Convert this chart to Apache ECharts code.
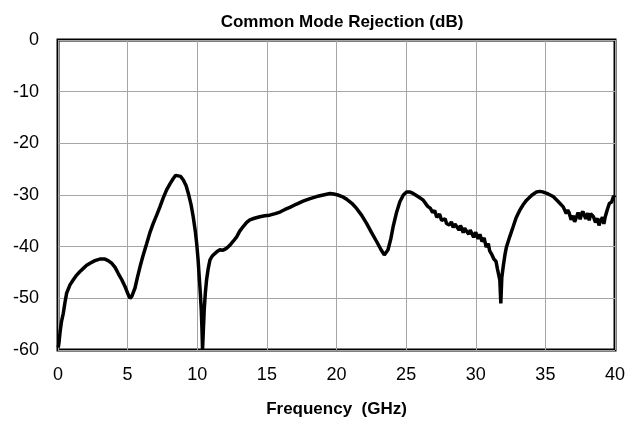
<!DOCTYPE html>
<html>
<head>
<meta charset="utf-8">
<script src="https://cdn.jsdelivr.net/npm/echarts@6/dist/echarts.min.js"></script>
<style>
  html, body { margin: 0; padding: 0; background: #fff; }
  #chart { width: 644px; height: 425px; }
</style>
</head>
<body>
<div id="chart"></div>
<script>
// Frequency sweep (GHz) and measured common mode rejection (dB)
const freqGHz = [
  0.02, 0.07, 0.15, 0.25, 0.38, 0.5, 0.62, 0.86, 1.1, 1.34, 1.58, 1.82, 2.06, 2.3, 2.65, 3.0, 3.37, 3.6, 3.85, 4.1,
  4.33, 4.58, 4.81, 5.0, 5.17, 5.3, 5.53, 5.7, 5.89, 6.1, 6.37, 6.6, 6.84, 7.1, 7.32, 7.55, 7.8, 8.05, 8.28, 8.45,
  8.59, 8.8, 9.0, 9.2, 9.36, 9.55, 9.71, 9.85, 9.96, 10.06, 10.14, 10.22, 10.29, 10.34, 10.38, 10.44, 10.5, 10.58, 10.67, 10.79,
  10.91, 11.03, 11.15, 11.4, 11.63, 11.8, 11.99, 12.15, 12.35, 12.6, 12.83, 13.05, 13.3, 13.55, 13.78, 14.1, 14.5, 14.85, 15.2, 15.6,
  15.94, 16.3, 16.65, 17.1, 17.6, 18.1, 18.57, 19.05, 19.53, 19.8, 20.1, 20.4, 20.72, 21.1, 21.44, 21.8, 22.16, 22.5, 22.88, 23.2,
  23.43, 23.55, 23.7, 23.9, 24.07, 24.3, 24.55, 24.8, 25.03, 25.25, 25.5, 25.85, 26.23, 26.55, 26.75, 26.9, 27.05, 27.2, 27.4, 27.55,
  27.66, 27.8, 27.9, 28.1, 28.25, 28.38, 28.5, 28.6, 28.8, 28.9, 29.0, 29.1, 29.2, 29.34, 29.5, 29.6, 29.7, 29.85, 30.0, 30.1,
  30.17, 30.3, 30.45, 30.6, 30.75, 30.9, 31.0, 31.15, 31.3, 31.45, 31.55, 31.65, 31.73, 31.8, 31.87, 31.97, 32.1, 32.21, 32.45, 32.69,
  32.9, 33.17, 33.4, 33.65, 34.0, 34.36, 34.6, 34.8, 35.2, 35.56, 35.9, 36.28, 36.5, 36.6, 36.7, 36.85, 37.0, 37.1, 37.2, 37.35,
  37.5, 37.6, 37.7, 37.9, 38.05, 38.15, 38.25, 38.45, 38.6, 38.75, 38.85, 38.93, 39.1, 39.2, 39.3, 39.45, 39.6, 39.75, 39.9, 40.0
];
const cmrDB = [
  -59.5, -58.6, -56.5, -54.5, -52.9, -50.8, -49.0, -47.4, -46.4, -45.5, -44.8, -44.2, -43.6, -43.2, -42.7, -42.4, -42.4, -42.7, -43.2, -44.0,
  -45.2, -46.4, -47.7, -49.0, -50.0, -49.6, -48.0, -46.0, -43.9, -41.8, -39.4, -37.3, -35.5, -33.8, -32.3, -30.6, -29.0, -27.8, -26.8, -26.2,
  -26.0, -26.4, -27.1, -28.2, -29.7, -31.8, -34.2, -36.8, -39.4, -42.5, -45.8, -49.0, -52.3, -56.0, -60.0, -56.0, -52.3, -49.0, -46.4, -44.2,
  -42.6, -42.0, -41.6, -41.0, -40.6, -40.7, -40.5, -40.2, -39.7, -38.9, -38.1, -37.0, -36.1, -35.3, -34.8, -34.5, -34.2, -34.0, -33.9, -33.6,
  -33.3, -32.8, -32.4, -31.8, -31.2, -30.7, -30.3, -30.0, -29.7, -29.8, -30.0, -30.3, -30.8, -31.6, -32.6, -33.9, -35.5, -37.2, -39.0, -40.6,
  -41.6, -41.3, -40.6, -38.5, -36.1, -33.5, -31.3, -30.0, -29.4, -29.4, -29.7, -30.3, -31.0, -32.2, -32.6, -33.4, -33.0, -34.3, -33.7, -34.9,
  -35.2, -34.6, -35.5, -35.8, -35.2, -36.3, -35.6, -36.0, -36.8, -35.9, -36.5, -37.3, -36.4, -37.0, -37.6, -36.8, -37.3, -38.2, -37.2, -38.0,
  -38.5, -37.6, -39.0, -38.3, -40.1, -39.4, -40.8, -41.5, -42.4, -42.8, -44.2, -44.5, -46.5, -51.0, -46.0, -43.9, -41.5, -40.0, -38.0, -36.1,
  -34.4, -32.9, -31.9, -31.0, -30.1, -29.4, -29.3, -29.4, -29.8, -30.3, -31.2, -32.3, -33.6, -32.9, -33.4, -34.8, -34.0, -35.2, -34.5, -33.4,
  -34.7, -33.6, -33.2, -34.6, -33.5, -34.9, -33.6, -34.2, -35.3, -34.5, -35.9, -35.2, -34.3, -35.6, -34.2, -32.8, -31.6, -31.4, -30.2, -30.5
];

const chartTitle = 'Common Mode Rejection (dB)';
const xAxisTitle = 'Frequency  (GHz)';

const points = freqGHz.map((f, i) => [f, cmrDB[i]]);
const fontFamily = '"Liberation Sans", Arial, sans-serif';

const chart = echarts.init(document.getElementById('chart'), null, { renderer: 'canvas' });
chart.setOption({
  animation: false,
  backgroundColor: '#ffffff',
  title: {
    text: chartTitle,
    left: 337,
    textAlign: 'center',
    top: 9,
    textStyle: { fontFamily, fontSize: 17, fontWeight: 'bold', color: '#000' }
  },
  grid: {
    left: 58, right: 29, top: 40, bottom: 75,
    show: true, borderColor: '#000', borderWidth: 3, backgroundColor: 'transparent'
  },
  xAxis: {
    type: 'value',
    min: 0, max: 40, interval: 5,
    name: xAxisTitle,
    nameLocation: 'middle',
    nameGap: 51,
    nameTextStyle: { fontFamily, fontSize: 17, fontWeight: 'bold', color: '#000' },
    axisLine: { show: false },
    axisTick: { show: false },
    axisLabel: { fontFamily, fontSize: 18, color: '#000', margin: 16 },
    splitLine: { show: true, lineStyle: { color: '#a6a6a6', width: 1 } }
  },
  yAxis: {
    type: 'value',
    min: -60, max: 0, interval: 10,
    axisLine: { show: false },
    axisTick: { show: false },
    axisLabel: { fontFamily, fontSize: 18, color: '#000', margin: 19 },
    splitLine: { show: true, lineStyle: { color: '#a6a6a6', width: 1 } }
  },
  series: [{
    type: 'line',
    data: points,
    showSymbol: false,
    smooth: false,
    lineStyle: { color: '#000', width: 3.5 },
    clip: true
  }]
});
</script>
</body>
</html>
